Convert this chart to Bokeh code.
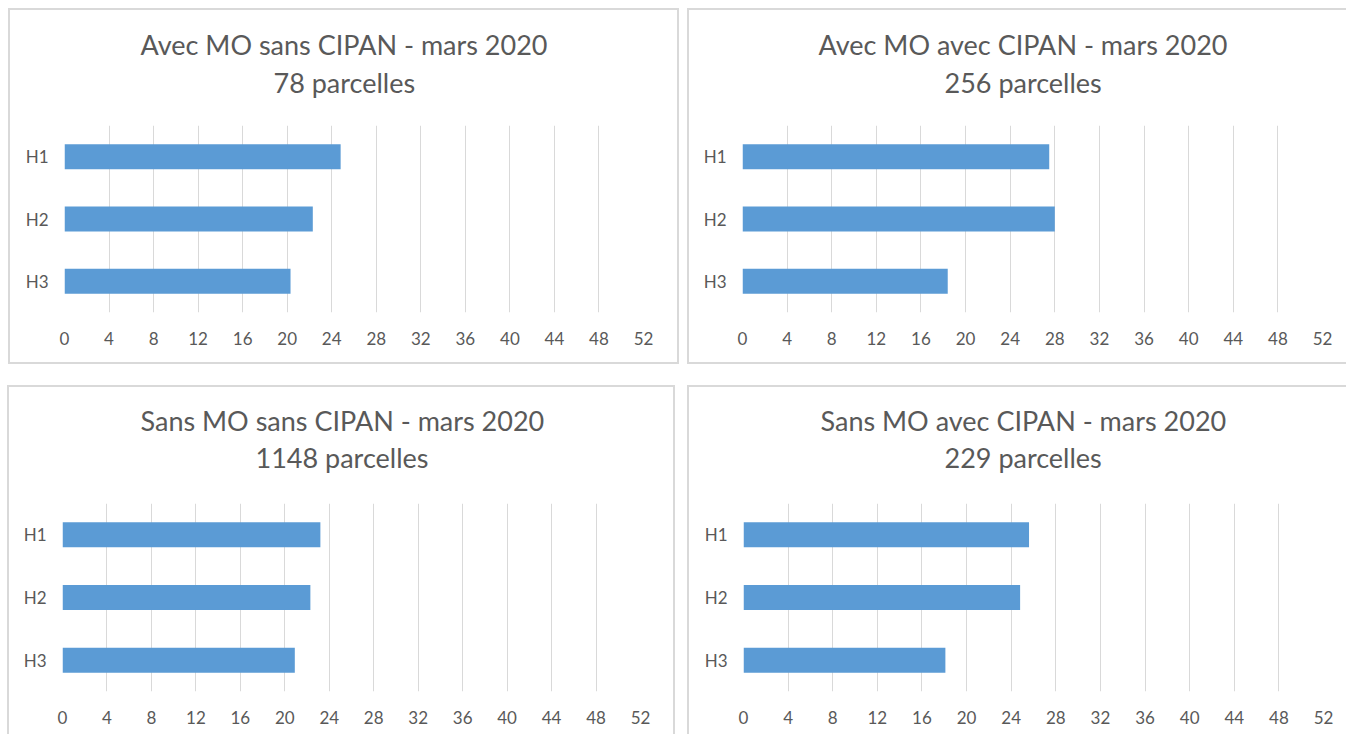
from bokeh.plotting import figure
from bokeh.layouts import row, column
from bokeh.models import Range1d, FactorRange, FixedTicker, Title, Spacer, InlineStyleSheet
from bokeh.embed import file_html
from bokeh.resources import INLINE

categories = ["H1", "H2", "H3"]
x_ticks = list(range(0, 53, 4))

titles = [
    "Avec MO sans CIPAN - mars 2020",
    "Avec MO avec CIPAN - mars 2020",
    "Sans MO sans CIPAN - mars 2020",
    "Sans MO avec CIPAN - mars 2020",
]
subtitles = ["78 parcelles", "256 parcelles", "1148 parcelles", "229 parcelles"]

avec_mo_sans_cipan = [24.8, 22.3, 20.3]
avec_mo_avec_cipan = [27.5, 28.0, 18.4]
sans_mo_sans_cipan = [23.2, 22.3, 20.9]
sans_mo_avec_cipan = [25.6, 24.8, 18.1]

series = [avec_mo_sans_cipan, avec_mo_avec_cipan, sans_mo_sans_cipan, sans_mo_avec_cipan]

FONT = "Lato"
GRAY = "#595959"
GRID = "#d9d9d9"
BAR = "#5B9BD5"
BORDER = "2px solid #d9d9d9"


def border_sheet(sides):
    rules = ";".join(f"border-{s}:{BORDER}" for s in sides)
    css = (":host{position:relative}"
           ":host::after{content:'';position:absolute;left:0;top:0;right:0;bottom:0;"
           "box-sizing:border-box;pointer-events:none;z-index:10;" + rules + "}")
    return InlineStyleSheet(css=css)


def spacer_title(standoff):
    # invisible (white on white) title used only to reserve vertical space
    return Title(text=".", align="center", text_font=FONT, text_font_size="10px",
                 text_color="white", standoff=standoff)


def make(title, subtitle, values, width, height, mb_left, mb_right, mb_bottom,
         gap_top, s_title, gap_frame, off_title, off_sub, sides):
    p = figure(
        width=width, height=height,
        y_range=FactorRange(factors=list(reversed(categories))),
        x_range=Range1d(0, 52),
        output_backend="svg", toolbar_location=None, title=None,
        min_border_left=mb_left, min_border_right=mb_right,
        min_border_top=0, min_border_bottom=mb_bottom,
    )
    p.hbar(y=categories, right=values, left=0, height=0.4, fill_color=BAR, line_color=None)
    p.add_layout(spacer_title(gap_frame), "above")
    p.add_layout(Title(text=subtitle, align="left", offset=off_sub, text_font=FONT,
                       text_font_size="27px", text_font_style="normal", text_color=GRAY,
                       standoff=s_title), "above")
    p.add_layout(Title(text=title, align="left", offset=off_title, text_font=FONT,
                       text_font_size="27px", text_font_style="normal", text_color=GRAY,
                       standoff=s_title), "above")
    p.add_layout(spacer_title(gap_top), "above")
    p.outline_line_color = None
    p.ygrid.grid_line_color = None
    p.xgrid.grid_line_color = GRID
    p.xgrid.grid_line_width = 1
    p.xaxis.ticker = FixedTicker(ticks=x_ticks)
    for ax in (p.xaxis, p.yaxis):
        ax.axis_line_color = None
        ax.major_tick_line_color = None
        ax.minor_tick_line_color = None
        ax.major_label_text_font = FONT
        ax.major_label_text_font_size = "17px"
        ax.major_label_text_color = GRAY
    p.xaxis.major_label_standoff = 13
    p.yaxis.major_label_standoff = 10
    p.stylesheets = [border_sheet(sides)]
    return p


p1 = make(titles[0], subtitles[0], series[0], 671, 356, 56, 36, 52, 7.25, 3.25, 16.25, 76, 209,
          ["left", "top", "right", "bottom"])
p2 = make(titles[1], subtitles[1], series[1], 659, 356, 55, 24, 52, 7.25, 3.25, 16.25, 76, 202,
          ["left", "top", "bottom"])
p3 = make(titles[2], subtitles[2], series[2], 668, 349, 55, 35, 43, 6.75, 2.25, 19.25, 78, 193,
          ["left", "top", "right"])
p4 = make(titles[3], subtitles[3], series[3], 659, 349, 56, 23, 43, 6.75, 2.25, 19.25, 77, 201,
          ["left", "top"])

top = row(Spacer(width=8, height=356), p1, Spacer(width=8, height=356), p2)
bottom = row(Spacer(width=7, height=349), p3, Spacer(width=12, height=349), p4)
layout = column(Spacer(width=10, height=8), top, Spacer(width=10, height=21), bottom)

open("out.html", "w").write(file_html(layout, INLINE))
